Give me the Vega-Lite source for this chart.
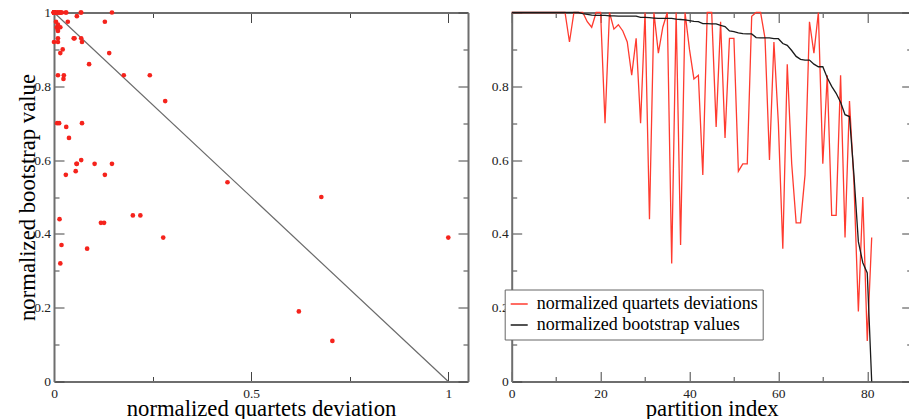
{
  "$schema": "https://vega.github.io/schema/vega-lite/v6.json",
  "padding": {"left": 15, "top": 5.5, "right": 0, "bottom": 0},
  "bounds": "flush",
  "spacing": 43.7,
  "config": {
    "view": {"stroke": null},
    "font": "Liberation Serif",
    "axis": {
      "labelFont": "Liberation Serif", "labelFontSize": 13.5, "labelColor": "#222",
      "titleFont": "Liberation Serif", "titleFontSize": 22.7, "titleFontWeight": "normal", "titleColor": "#000",
      "domainColor": "#6e6e6e", "domainWidth": 2, "tickColor": "#444", "tickWidth": 1,
      "grid": false, "labelFlush": false, "labelBound": false, "labelOverlap": false
    }
  },
  "datasets": {
    "diag": [{"dev": 0, "qd": 1}, {"dev": 1, "qd": 0}],
    "parts": [
      {"idx": 0, "qd": 1, "bv": 1, "dev": 0},
      {"idx": 1, "qd": 1, "bv": 1, "dev": 0},
      {"idx": 2, "qd": 1, "bv": 1, "dev": 0},
      {"idx": 3, "qd": 1, "bv": 1, "dev": 0},
      {"idx": 4, "qd": 1, "bv": 1, "dev": 0},
      {"idx": 5, "qd": 1, "bv": 1, "dev": 0},
      {"idx": 6, "qd": 1, "bv": 1, "dev": 0},
      {"idx": 7, "qd": 1, "bv": 1, "dev": 0},
      {"idx": 8, "qd": 1, "bv": 1, "dev": 0},
      {"idx": 9, "qd": 1, "bv": 1, "dev": 0},
      {"idx": 10, "qd": 1, "bv": 1, "dev": 0},
      {"idx": 11, "qd": 1, "bv": 1, "dev": 0},
      {"idx": 12, "qd": 1, "bv": 1, "dev": 0},
      {"idx": 13, "qd": 0.92, "bv": 1, "dev": 0},
      {"idx": 14, "qd": 1, "bv": 1, "dev": 0},
      {"idx": 15, "qd": 1, "bv": 1, "dev": 0},
      {"idx": 16, "qd": 1, "bv": 0.997, "dev": 0.003},
      {"idx": 17, "qd": 0.975, "bv": 0.995, "dev": 0.005},
      {"idx": 18, "qd": 0.96, "bv": 0.993, "dev": 0.007},
      {"idx": 19, "qd": 1, "bv": 0.992, "dev": 0.008},
      {"idx": 20, "qd": 1, "bv": 0.992, "dev": 0.008},
      {"idx": 21, "qd": 0.7, "bv": 0.992, "dev": 0.008},
      {"idx": 22, "qd": 1, "bv": 0.991, "dev": 0.009},
      {"idx": 23, "qd": 0.955, "bv": 0.991, "dev": 0.009},
      {"idx": 24, "qd": 0.967, "bv": 0.99, "dev": 0.01},
      {"idx": 25, "qd": 0.95, "bv": 0.99, "dev": 0.01},
      {"idx": 26, "qd": 0.92, "bv": 0.99, "dev": 0.01},
      {"idx": 27, "qd": 0.83, "bv": 0.99, "dev": 0.01},
      {"idx": 28, "qd": 0.93, "bv": 0.99, "dev": 0.01},
      {"idx": 29, "qd": 0.7, "bv": 0.987, "dev": 0.013},
      {"idx": 30, "qd": 1, "bv": 0.987, "dev": 0.013},
      {"idx": 31, "qd": 0.44, "bv": 0.986, "dev": 0.014},
      {"idx": 32, "qd": 1, "bv": 0.985, "dev": 0.015},
      {"idx": 33, "qd": 0.89, "bv": 0.984, "dev": 0.016},
      {"idx": 34, "qd": 0.96, "bv": 0.984, "dev": 0.016},
      {"idx": 35, "qd": 1, "bv": 0.984, "dev": 0.016},
      {"idx": 36, "qd": 0.32, "bv": 0.984, "dev": 0.016},
      {"idx": 37, "qd": 1, "bv": 0.982, "dev": 0.018},
      {"idx": 38, "qd": 0.37, "bv": 0.981, "dev": 0.019},
      {"idx": 39, "qd": 1, "bv": 0.98, "dev": 0.02},
      {"idx": 40, "qd": 0.9, "bv": 0.978, "dev": 0.022},
      {"idx": 41, "qd": 0.82, "bv": 0.976, "dev": 0.024},
      {"idx": 42, "qd": 0.83, "bv": 0.975, "dev": 0.025},
      {"idx": 43, "qd": 0.56, "bv": 0.97, "dev": 0.03},
      {"idx": 44, "qd": 1, "bv": 0.97, "dev": 0.03},
      {"idx": 45, "qd": 1, "bv": 0.969, "dev": 0.031},
      {"idx": 46, "qd": 0.69, "bv": 0.969, "dev": 0.031},
      {"idx": 47, "qd": 0.975, "bv": 0.965, "dev": 0.035},
      {"idx": 48, "qd": 0.66, "bv": 0.962, "dev": 0.038},
      {"idx": 49, "qd": 0.93, "bv": 0.95, "dev": 0.05},
      {"idx": 50, "qd": 0.93, "bv": 0.948, "dev": 0.052},
      {"idx": 51, "qd": 0.57, "bv": 0.945, "dev": 0.055},
      {"idx": 52, "qd": 0.59, "bv": 0.943, "dev": 0.057},
      {"idx": 53, "qd": 0.59, "bv": 0.942, "dev": 0.058},
      {"idx": 54, "qd": 0.99, "bv": 0.942, "dev": 0.058},
      {"idx": 55, "qd": 1, "bv": 0.932, "dev": 0.068},
      {"idx": 56, "qd": 1, "bv": 0.931, "dev": 0.069},
      {"idx": 57, "qd": 0.93, "bv": 0.931, "dev": 0.069},
      {"idx": 58, "qd": 0.6, "bv": 0.931, "dev": 0.069},
      {"idx": 59, "qd": 0.92, "bv": 0.929, "dev": 0.071},
      {"idx": 60, "qd": 0.7, "bv": 0.929, "dev": 0.071},
      {"idx": 61, "qd": 0.36, "bv": 0.916, "dev": 0.084},
      {"idx": 62, "qd": 0.86, "bv": 0.911, "dev": 0.089},
      {"idx": 63, "qd": 0.59, "bv": 0.897, "dev": 0.103},
      {"idx": 64, "qd": 0.43, "bv": 0.881, "dev": 0.119},
      {"idx": 65, "qd": 0.43, "bv": 0.873, "dev": 0.127},
      {"idx": 66, "qd": 0.56, "bv": 0.871, "dev": 0.129},
      {"idx": 67, "qd": 0.975, "bv": 0.871, "dev": 0.129},
      {"idx": 68, "qd": 0.89, "bv": 0.86, "dev": 0.14},
      {"idx": 69, "qd": 1, "bv": 0.853, "dev": 0.147},
      {"idx": 70, "qd": 0.59, "bv": 0.853, "dev": 0.147},
      {"idx": 71, "qd": 0.83, "bv": 0.823, "dev": 0.177},
      {"idx": 72, "qd": 0.45, "bv": 0.8, "dev": 0.2},
      {"idx": 73, "qd": 0.45, "bv": 0.781, "dev": 0.219},
      {"idx": 74, "qd": 0.83, "bv": 0.757, "dev": 0.243},
      {"idx": 75, "qd": 0.39, "bv": 0.723, "dev": 0.277},
      {"idx": 76, "qd": 0.76, "bv": 0.718, "dev": 0.282},
      {"idx": 77, "qd": 0.54, "bv": 0.56, "dev": 0.44},
      {"idx": 78, "qd": 0.19, "bv": 0.379, "dev": 0.621},
      {"idx": 79, "qd": 0.5, "bv": 0.322, "dev": 0.678},
      {"idx": 80, "qd": 0.11, "bv": 0.294, "dev": 0.706},
      {"idx": 81, "qd": 0.39, "bv": 0, "dev": 1}
    ]
  },
  "hconcat": [
    {
      "width": 414,
      "height": 369,
      "layer": [
        {
          "data": {"name": "diag"},
          "mark": {"type": "line", "color": "#6a6a6a", "strokeWidth": 1.2},
          "encoding": {
            "x": {"field": "dev", "type": "quantitative", "scale": {"domain": [0, 1.05], "nice": false, "zero": false},
              "axis": {"orient": "top", "values": [0, 0.25, 0.5, 0.75, 1], "labels": false, "title": null,
                "tickSize": {"condition": {"test": "round(datum.value*4)%2==0", "value": -10}, "value": -5}}},
            "y": {"field": "qd", "type": "quantitative", "scale": {"domain": [0, 1], "nice": false},
              "axis": {"orient": "right", "values": [0, 0.1, 0.2, 0.3, 0.4, 0.5, 0.6, 0.7, 0.8, 0.9, 1], "labels": false, "title": null,
                "tickSize": {"condition": {"test": "round(datum.value*10)%2==0", "value": -10}, "value": -5}}}
          }
        },
        {
          "data": {"name": "parts"},
          "mark": {"type": "circle", "color": "#f5231c", "opacity": 1, "size": 22},
          "encoding": {
            "x": {"field": "dev", "type": "quantitative",
              "axis": {"orient": "bottom", "values": [0, 0.25, 0.5, 0.75, 1], "format": "~g",
                "labelExpr": "round(datum.value*4)%2==0 ? datum.label : ''",
                "tickSize": {"condition": {"test": "round(datum.value*4)%2==0", "value": -10}, "value": -5},
                "labelPadding": 14.5,
                "title": "normalized quartets deviation", "titleX": 207, "titleY": 34,
                "titleBaseline": "alphabetic", "titleAlign": "center", "titleAngle": 0}},
            "y": {"field": "qd", "type": "quantitative",
              "axis": {"orient": "left", "values": [0, 0.1, 0.2, 0.3, 0.4, 0.5, 0.6, 0.7, 0.8, 0.9, 1], "format": "~g",
                "labelExpr": "round(datum.value*10)%2==0 ? datum.label : ''",
                "tickSize": {"condition": {"test": "round(datum.value*10)%2==0", "value": -10}, "value": -5},
                "labelPadding": 13.5,
                "title": "normalized bootstrap value", "titleX": -20, "titleY": 184.5,
                "titleBaseline": "alphabetic", "titleAlign": "center", "titleAngle": 270}}
          }
        }
      ],
      "resolve": {"axis": {"x": "independent", "y": "independent"}}
    },
    {
      "width": 400,
      "height": 369,
      "data": {"name": "parts"},
      "layer": [
        {
          "mark": {"type": "line", "strokeWidth": 1.3},
          "encoding": {
            "x": {"field": "idx", "type": "quantitative", "scale": {"domain": [0, 90], "nice": false, "zero": false},
              "axis": {"orient": "top", "values": [0, 10, 20, 30, 40, 50, 60, 70, 80, 90], "labels": false, "title": null,
                "tickSize": {"condition": {"test": "datum.value%20==0", "value": -10}, "value": -5}}},
            "y": {"field": "qd", "type": "quantitative", "scale": {"domain": [0, 1], "nice": false},
              "axis": {"orient": "right", "values": [0, 0.1, 0.2, 0.3, 0.4, 0.5, 0.6, 0.7, 0.8, 0.9, 1], "labels": false, "title": null,
                "tickSize": {"condition": {"test": "round(datum.value*10)%2==0", "value": -10}, "value": -5}}},
            "color": {"datum": "normalized quartets deviations", "type": "nominal",
              "scale": {"domain": ["normalized quartets deviations", "normalized bootstrap values"], "range": ["#ff3b2f", "#1a1a1a"]},
              "legend": {"orient": "none", "legendX": -7, "legendY": 277, "title": null, "zindex": 2,
                "symbolType": "stroke", "symbolSize": 290, "symbolStrokeWidth": 1.5,
                "labelFont": "Liberation Serif", "labelFontSize": 18, "labelColor": "#000", "labelOffset": 8, "labelLimit": 0,
                "strokeColor": "#666", "fillColor": "#ffffff", "padding": 5, "rowPadding": 2, "cornerRadius": 0}}
          }
        },
        {
          "mark": {"type": "line", "strokeWidth": 1.3},
          "encoding": {
            "x": {"field": "idx", "type": "quantitative",
              "axis": {"orient": "bottom", "values": [0, 10, 20, 30, 40, 50, 60, 70, 80, 90], "format": "d",
                "labelExpr": "datum.value%20==0 && datum.value<90 ? datum.label : ''",
                "tickSize": {"condition": {"test": "datum.value%20==0", "value": -10}, "value": -5},
                "labelPadding": 14.5,
                "title": "partition index", "titleX": 200, "titleY": 34,
                "titleBaseline": "alphabetic", "titleAlign": "center", "titleAngle": 0}},
            "y": {"field": "bv", "type": "quantitative",
              "axis": {"orient": "left", "values": [0, 0.1, 0.2, 0.3, 0.4, 0.5, 0.6, 0.7, 0.8, 0.9, 1], "format": "~g",
                "labelExpr": "round(datum.value*10)%2==0 && datum.value<1 ? datum.label : ''",
                "tickSize": {"condition": {"test": "round(datum.value*10)%2==0", "value": -10}, "value": -5},
                "labelPadding": 13.5, "title": null}},
            "color": {"datum": "normalized bootstrap values", "type": "nominal"}
          }
        }
      ],
      "resolve": {"axis": {"x": "independent", "y": "independent"}}
    }
  ],
  "resolve": {"scale": {"color": "independent"}}
}
